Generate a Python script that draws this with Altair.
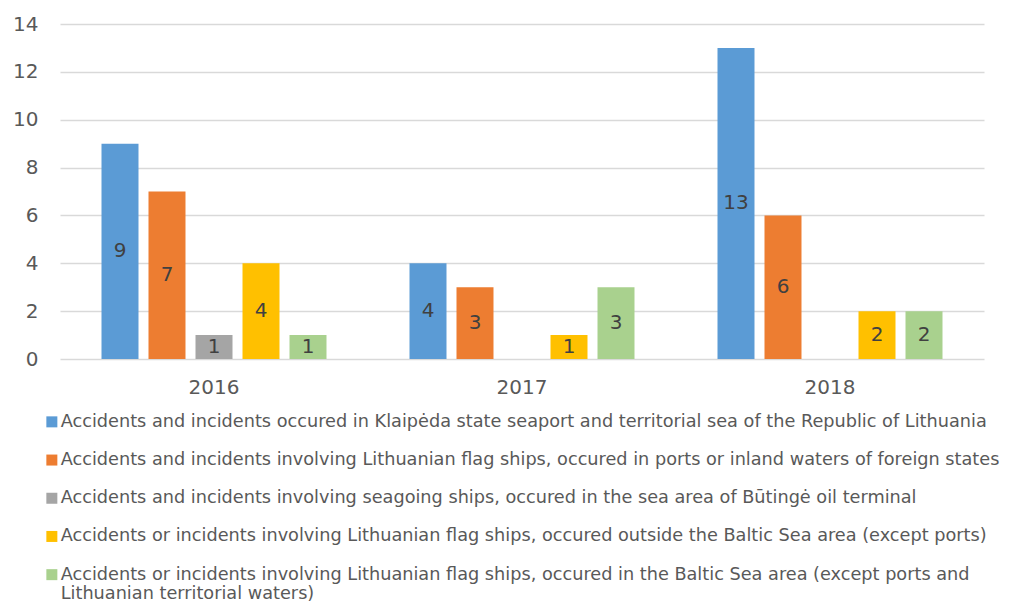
import altair as alt
import pandas as pd

years = ["2016", "2017", "2018"]
series = [
    "Accidents and incidents occured in Klaipėda state seaport and territorial sea of the Republic of Lithuania",
    "Accidents and incidents involving Lithuanian flag ships, occured in ports or inland waters of foreign states",
    "Accidents and incidents involving seagoing ships, occured in the sea area of Būtingė oil terminal",
    "Accidents or incidents involving Lithuanian flag ships, occured outside the Baltic Sea area (except ports)",
    "Accidents or incidents involving Lithuanian flag ships, occured in the Baltic Sea area (except ports and Lithuanian territorial waters)",
]
wrap_line1 = "Accidents or incidents involving Lithuanian flag ships, occured in the Baltic Sea area (except ports and"
wrap_line2 = "Lithuanian territorial waters)"
klaipeda = [9, 4, 13]
foreign = [7, 3, 6]
butinge = [1, 0, 0]
outside_baltic = [4, 1, 2]
baltic = [1, 3, 2]
colors = ["#5B9BD5", "#ED7D31", "#A5A5A5", "#FFC000", "#A9D18E"]

rows = []
for s, vals in zip(series, [klaipeda, foreign, butinge, outside_baltic, baltic]):
    for y, v in zip(years, vals):
        rows.append({"year": y, "series": s, "value": v, "mid": v / 2})
df = pd.DataFrame(rows)

FONT = "DejaVu Sans"
AX = "#595959"

x = alt.X("year:N", sort=years, scale=alt.Scale(paddingInner=0, paddingOuter=0),
          axis=alt.Axis(title=None, labelAngle=0, labelFontSize=20, labelColor=AX, labelFont=FONT,
                        domain=False, ticks=False, labelPadding=18))
xo = alt.XOffset("series:N", sort=series, scale=alt.Scale(paddingInner=0.213, paddingOuter=0.883))

legend = alt.Legend(
    orient="none", legendX=-17, legendY=389, direction="vertical", title=None,
    symbolType="square", symbolSize=121, symbolStrokeWidth=0, labelFontSize=17.7,
    labelFont=FONT, labelColor=AX, labelLimit=1000, rowPadding=19.2, labelOffset=0,
    labelExpr=f"datum.label == '{series[4]}' ? ['{wrap_line1}', '{wrap_line2}'] : datum.label",
)

bars = alt.Chart(df).mark_bar().encode(
    x=x, xOffset=xo,
    y=alt.Y("value:Q", scale=alt.Scale(domain=[0, 14]),
            axis=alt.Axis(title=None, values=list(range(0, 15, 2)), grid=True, gridColor="#D9D9D9",
                          gridWidth=1.5, domain=False, ticks=False, labelPadding=22,
                          labelFontSize=20, labelColor=AX, labelFont=FONT)),
    color=alt.Color("series:N", sort=series, scale=alt.Scale(domain=series, range=colors), legend=legend),
)

labels = alt.Chart(df).transform_filter("datum.value > 0").mark_text(
    fontSize=20, color="#404040", font=FONT
).encode(x=x, xOffset=xo, y=alt.Y("mid:Q"), text="value:Q")

chart = alt.layer(bars, labels).properties(
    width=924, height=335,
    autosize=alt.AutoSizeParams(type="none"),
    padding={"left": 52, "top": 16, "right": 25, "bottom": 245},
).configure_view(stroke=None)

chart.save("out.html", embed_options={"renderer": "svg", "actions": False})
